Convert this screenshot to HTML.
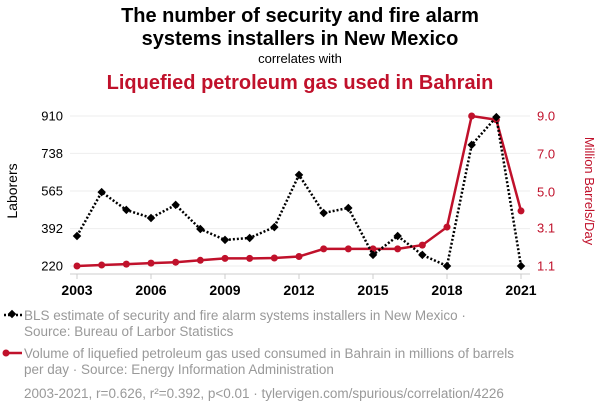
<!DOCTYPE html>
<html><head><meta charset="utf-8"><style>
body{margin:0;background:#fff;font-family:"Liberation Sans",sans-serif;}
#wrap{position:relative;width:600px;height:414px;overflow:hidden;}
</style></head><body>
<div id="wrap">
<svg id="svg" width="600" height="414" xmlns="http://www.w3.org/2000/svg">
<text x="300" y="22" text-anchor="middle" font-size="20" font-weight="bold" fill="#000">The number of security and fire alarm</text>
<text x="300" y="45" text-anchor="middle" font-size="20" font-weight="bold" fill="#000">systems installers in New Mexico</text>
<text x="300" y="63" text-anchor="middle" font-size="13" fill="#000">correlates with</text>
<text x="300" y="89" text-anchor="middle" font-size="20" font-weight="bold" fill="#c0112b">Liquefied petroleum gas used in Bahrain</text>
<text transform="translate(17,191) rotate(-90)" text-anchor="middle" font-size="14" fill="#000">Laborers</text>
<text transform="translate(585,191) rotate(90)" text-anchor="middle" font-size="13" fill="#c0112b">Million Barrels/Day</text>
<g id="grid"></g><g id="axes"></g><g id="marks"></g>
<g>
<line x1="4" y1="315" x2="22" y2="315" stroke="#000" stroke-width="2.5" stroke-dasharray="2,2"/>
<rect x="9" y="311" width="6" height="6" transform="rotate(45 12 314)" fill="#000"/>
<text x="24" y="320" font-size="13.5" fill="#999">BLS estimate of security and fire alarm systems installers in New Mexico ·</text>
<text x="24" y="336" font-size="13.5" fill="#999">Source: Bureau of Larbor Statistics</text>
</g>
<g>
<line x1="4" y1="353" x2="22" y2="353" stroke="#c0112b" stroke-width="2.5"/>
<circle cx="6" cy="353" r="3.5" fill="#c0112b"/>
<text x="24" y="358" font-size="13.5" fill="#999">Volume of liquefied petroleum gas used consumed in Bahrain in millions of barrels</text>
<text x="24" y="374" font-size="13.5" fill="#999">per day · Source: Energy Information Administration</text>
</g>
<text x="24" y="398" font-size="13.5" fill="#999">2003-2021, r=0.626, r²=0.392, p&lt;0.01 · tylervigen.com/spurious/correlation/4226</text>
</svg>
</div>
<script>
const years=[2003,2004,2005,2006,2007,2008,2009,2010,2011,2012,2013,2014,2015,2016,2017,2018,2019,2020,2021];
const laborers=[358,560,478,441,501,390,340,349,399,639,464,487,271,358,271,220,777,905,220];
const lpg=[1.1,1.15,1.2,1.25,1.3,1.4,1.5,1.5,1.52,1.6,2.0,2.0,2.0,2.0,2.2,3.15,9.0,8.8,4.0];
const leftTicks=[220,392,565,738,910];
const rightTicks=[1.1,3.1,5.0,7.0,9.0];
const xTicks=[2003,2006,2009,2012,2015,2018,2021];
const NS="http://www.w3.org/2000/svg";
const x=v=>77+(v-2003)/(18)*444;
const yL=v=>266-(v-220)/(910-220)*150;
const yR=v=>266-(v-1.1)/(9.0-1.1)*150;
function mk(tag,attrs,parent,text){const e=document.createElementNS(NS,tag);for(const k in attrs)e.setAttribute(k,attrs[k]);if(text!==undefined)e.textContent=text;document.getElementById(parent).appendChild(e);return e;}
leftTicks.forEach((t,i)=>{
 const g=mk('line',{x1:70,x2:530,y1:yL(t),y2:yL(t),stroke:'#eee','stroke-width':1},'grid');
 
 
 const tl=mk('text',{x:63,y:yL(t)+4.5,'text-anchor':'end','font-size':13,fill:'#000'},'axes',String(t));
 
 
});
const ax=mk('line',{x1:70,x2:530,y1:274,y2:274,stroke:'#ccc','stroke-width':1},'axes');


rightTicks.forEach(t=>{
 const tl=mk('text',{x:537,y:yR(t)+4.5,'font-size':13,fill:'#c0112b'},'axes',t.toFixed(1));
 
 
});
xTicks.forEach(t=>{
 const tk=mk('line',{x1:x(t),x2:x(t),y1:274,y2:279,stroke:'#ccc','stroke-width':1},'axes');
 
 
 const tl=mk('text',{x:x(t),y:295,'text-anchor':'middle','font-size':14,'font-weight':'bold',fill:'#000'},'axes',String(t));
 
 
});
const rp=mk('polyline',{points:years.map((y,i)=>x(y)+','+yR(lpg[i])).join(' '),fill:'none',stroke:'#c0112b','stroke-width':2.5},'marks');


years.forEach((y,i)=>{
 const c=mk('circle',{cx:x(y),cy:yR(lpg[i]),r:3.5,fill:'#c0112b'},'marks');
 
 
});
const bp=mk('polyline',{points:years.map((y,i)=>x(y)+','+yL(laborers[i])).join(' '),fill:'none',stroke:'#000','stroke-width':2.5,'stroke-dasharray':'2,2'},'marks');


years.forEach((y,i)=>{
 const cx=x(y),cy=yL(laborers[i]);
 const d=mk('rect',{x:cx-3,y:cy-3,width:6,height:6,transform:`rotate(45 ${cx} ${cy})`,fill:'#000'},'marks');
 
 
});
</script>
</body></html>
